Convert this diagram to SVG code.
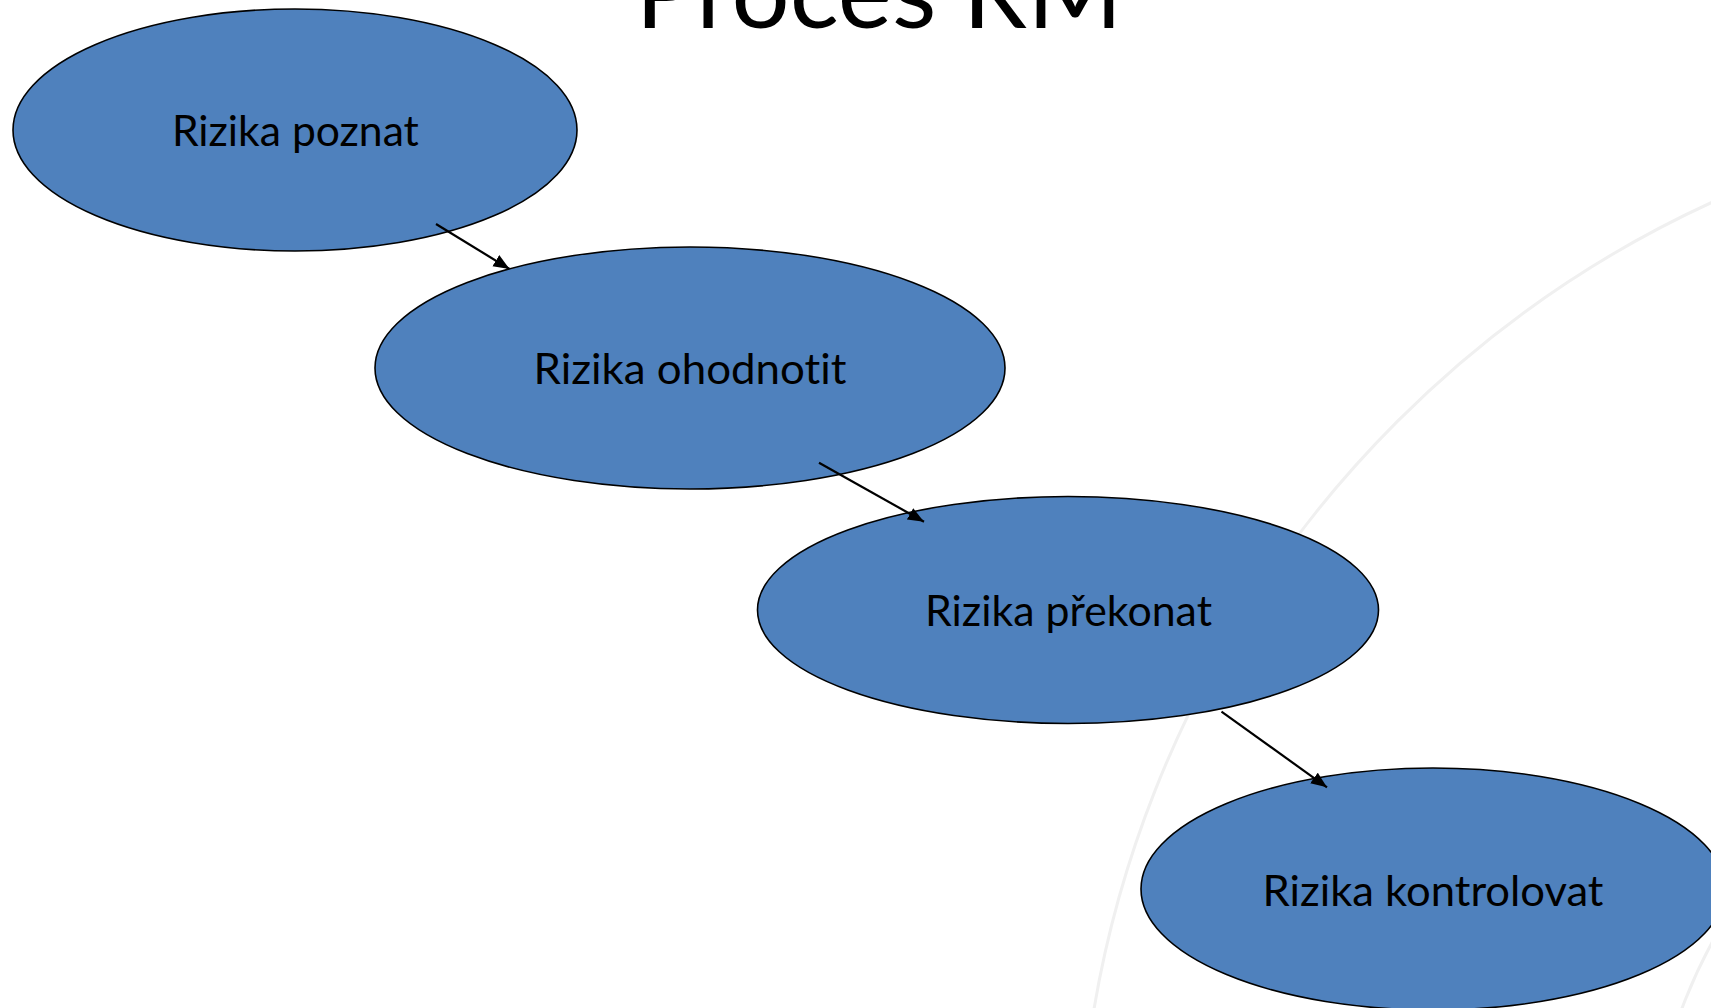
<svg xmlns="http://www.w3.org/2000/svg" width="1711" height="1008" viewBox="0 0 1711 1008">
  <style>
    .bg { fill: none; stroke: #f0f0f0; stroke-width: 3; }
    .node ellipse { fill: #4F81BD; stroke: #000000; stroke-width: 1.6; }
    .label { font-family: Lato, "Open Sans", "Liberation Sans", sans-serif; font-size: 43px; fill: #000000; text-anchor: middle; font-variant-ligatures: none; }
    .title { font-family: Lato, "Open Sans", "Liberation Sans", sans-serif; font-weight: 400; font-size: 101px; fill: #000000; text-anchor: middle; font-variant-ligatures: none; }
    .edge { stroke: #000000; stroke-width: 2.2; fill: none; marker-end: url(#arrow); }
  </style>
  <defs>
    <marker id="arrow" markerUnits="userSpaceOnUse" markerWidth="17" markerHeight="14" refX="16" refY="6.5" orient="auto">
      <path d="M0,0 L16,6.5 L0,13 z" fill="#000000"/>
    </marker>
  </defs>
  <rect width="1711" height="1008" fill="#ffffff"/>
  <g id="background">
    <circle class="bg" cx="2166" cy="1190" r="1087"/>
    <circle class="bg" cx="2166" cy="1190" r="517"/>
  </g>
  <text id="title" class="title" x="879" y="28" textLength="487" lengthAdjust="spacingAndGlyphs">Proces RM</text>
  <g id="node1" class="node">
    <ellipse cx="295" cy="130" rx="282" ry="121"/>
    <text class="label" x="295.4" y="146" textLength="247" lengthAdjust="spacingAndGlyphs">Rizika poznat</text>
  </g>
  <g id="node2" class="node">
    <ellipse cx="690" cy="368" rx="315" ry="121"/>
    <text class="label" x="690" y="384" textLength="313" lengthAdjust="spacingAndGlyphs">Rizika ohodnotit</text>
  </g>
  <g id="node3" class="node">
    <ellipse cx="1068" cy="610" rx="310.5" ry="113.5"/>
    <text class="label" x="1068.5" y="626" textLength="287" lengthAdjust="spacingAndGlyphs">Rizika překonat</text>
  </g>
  <g id="node4" class="node">
    <ellipse cx="1433" cy="889" rx="292" ry="121"/>
    <text class="label" x="1433" y="906" textLength="341" lengthAdjust="spacingAndGlyphs">Rizika kontrolovat</text>
  </g>
  <g id="connectors">
    <line class="edge" x1="436" y1="224" x2="509.5" y2="269"/>
    <line class="edge" x1="819" y1="462.7" x2="924" y2="521.7"/>
    <line class="edge" x1="1221.5" y1="711.7" x2="1327" y2="787.3"/>
  </g>
</svg>
